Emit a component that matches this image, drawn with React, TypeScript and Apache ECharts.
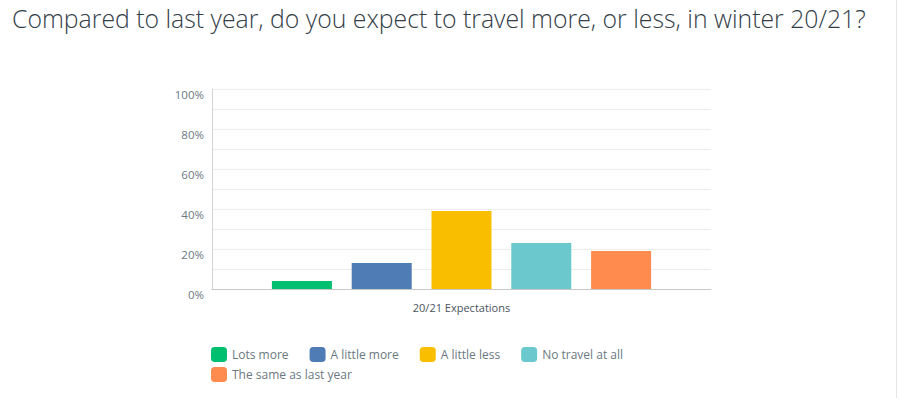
import React, { useEffect, useRef } from "react";
import * as echarts from "echarts";

const titleText = "Compared to last year, do you expect to travel more, or less, in winter 20/21?";
const categories = ["20/21 Expectations"];
const seriesNames = ["Lots more", "A little more", "A little less", "No travel at all", "The same as last year"];
const seriesValues = [4, 13, 39, 23, 19];
const seriesColors = ["#00bf6f", "#507cb6", "#f9be00", "#6bc8cd", "#ff8b4f"];

export default function App() {
  const ref = useRef<HTMLDivElement>(null);
  useEffect(() => {
    if (!ref.current) return;
    const chart = echarts.init(ref.current, null, { renderer: "svg" });
    const font = "Open Sans";
    const legendBase = {
      left: 211,
      icon: "roundRect",
      itemWidth: 16,
      itemHeight: 15,
      itemGap: 21,
      padding: 0,
      textStyle: { fontFamily: font, fontSize: 12, color: "#6b787f" },
    };
    chart.setOption({
      animation: false,
      backgroundColor: "#ffffff",
      title: {
        text: titleText,
        left: 12,
        top: 5,
        padding: 0,
        textStyle: { fontFamily: font, fontSize: 24.8, fontWeight: 300, color: "#333e48" },
      },
      grid: { left: 212, right: 186, top: 89, bottom: 109, containLabel: false },
      legend: [
        { ...legendBase, data: seriesNames.slice(0, 4), top: 347 },
        { ...legendBase, data: seriesNames.slice(4), top: 367 },
      ],
      xAxis: {
        type: "category",
        data: categories,
        axisLine: { show: true, lineStyle: { color: "#c8c8c8", width: 1 } },
        axisTick: { show: false },
        axisLabel: { margin: 13, fontFamily: font, fontSize: 11, color: "#4a545c" },
      },
      yAxis: {
        type: "value",
        min: 0,
        max: 100,
        interval: 10,
        axisLine: { show: true, lineStyle: { color: "#d6d6d6", width: 1 } },
        axisTick: { show: false },
        splitLine: { show: true, lineStyle: { color: "#ececec", width: 1 } },
        axisLabel: {
          margin: 8,
          fontFamily: font,
          fontSize: 11.5,
          color: "#6b787f",
          verticalAlign: "top",
          lineHeight: 10,
          formatter: (v: number) => (v % 20 === 0 ? v + "%" : ""),
        },
      },
      series: seriesNames.map((name, i) => ({
        name,
        type: "bar",
        data: [seriesValues[i]],
        barWidth: 60,
        barGap: "33%",
        itemStyle: { color: seriesColors[i] },
      })),
      graphic: [
        {
          type: "line",
          shape: { x1: 896.5, y1: 0, x2: 896.5, y2: 398 },
          style: { stroke: "#e6e6e6", lineWidth: 1 },
        },
      ],
    });
    return () => chart.dispose();
  }, []);
  return (
    <div
      ref={ref}
      style={{ position: "absolute", left: 0, top: 0, width: 897, height: 398 }}
    />
  );
}
